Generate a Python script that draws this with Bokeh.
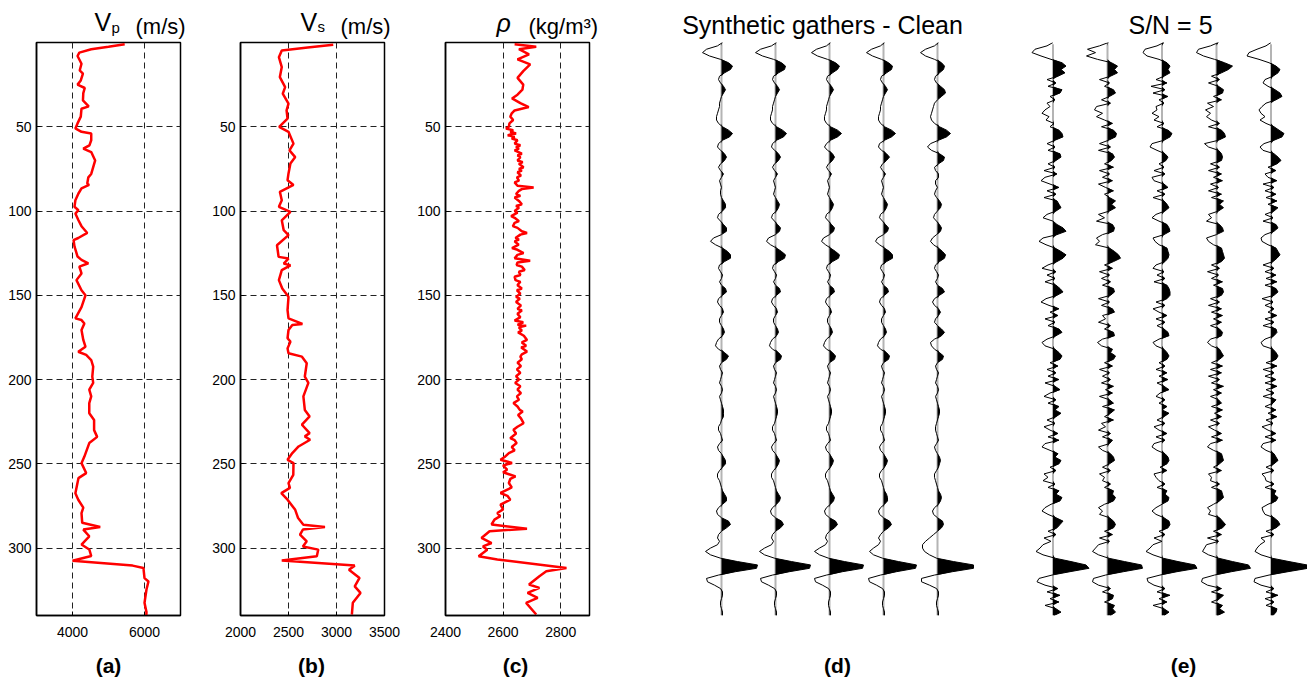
from bokeh.plotting import figure
from bokeh.layouts import row, column
from bokeh.models import Range1d, FixedTicker, Label
from bokeh.embed import file_html
from bokeh.resources import INLINE

FONT = "Liberation Sans"

# ---------------- data ----------------
depth_ticks = [50, 100, 150, 200, 250, 300]
vp_ticks = [4000, 6000]
vs_ticks = [2000, 2500, 3000, 3500]
rho_ticks = [2400, 2600, 2800]

vp_depth = [1, 2.5, 4, 6, 8, 12.6, 16.6, 18.5, 22.5, 25, 27, 30, 34.4, 37.9, 39.3, 44, 48, 51, 53, 54,
            58, 61, 63, 65, 70, 74, 78, 80, 83.7, 84.5, 86.5, 89.6, 93.6, 97.5, 99.5, 101.5, 105.5, 109,
            113, 116, 117.3, 121, 127, 129, 131, 133, 137, 141, 147, 150, 157, 163.7, 164.7, 166.7, 170.6,
            176.5, 180.5, 183.5, 185.4, 188.4, 192.3, 198.3, 202, 206, 210, 214, 220, 224, 230, 234, 237.7,
            245.7, 249.6, 255.5, 258.5, 267.4, 271.3, 276, 279.2, 285, 287.5, 289, 293, 297.9, 300.8, 304.7,
            307.5, 310.4, 311.8, 317.8, 319.8, 324.6, 332.5, 338, 340]
vp_mps = [5450, 5000, 4520, 4190, 4140, 4250, 4200, 4290, 4230, 4140, 4340, 4300, 4290, 4450, 4250, 4230,
          4140, 4080, 4250, 4520, 4520, 4470, 4300, 4520, 4630, 4575, 4520, 4440, 4410, 4460, 4250, 4165,
          4080, 4055, 4165, 4080, 4165, 4250, 4410, 4160, 4030, 4055, 4140, 4250, 4440, 4190, 4250, 4110,
          4250, 4360, 4250, 4080, 4250, 4330, 4250, 4300, 4360, 4160, 4380, 4520, 4575, 4550, 4575, 4466,
          4520, 4466, 4466, 4600, 4600, 4685, 4466, 4330, 4250, 4380, 4165, 4080, 4160, 4300, 4250, 4270,
          4770, 4300, 4466, 4250, 4466, 4520, 4000, 5670, 5970, 6000, 6110, 6055, 6000, 6055, 6050]

vs_depth = [1.4, 3, 4.7, 8.7, 14.6, 20.5, 26.5, 30.4, 36.3, 40.3, 45.2, 50.1, 53, 60, 64, 68, 71.8, 77.7,
            81.7, 84.5, 88.6, 93.6, 97.5, 100.5, 105.5, 111.4, 114.3, 120.3, 127.2, 128.2, 131.2, 132.2,
            135.1, 141, 146, 150.9, 158.8, 163.7, 167, 167.6, 170.6, 175.5, 177.5, 181.5, 184.4, 186.4,
            190.3, 198.2, 202, 210, 218, 221.9, 226.8, 231.8, 233.7, 235.7, 239.7, 243.6, 247.6, 249.5,
            256.5, 261.4, 264.3, 267.4, 271.3, 277.3, 282.2, 286.1, 287.5, 289, 292, 296, 299, 300.9, 304.8,
            307.4, 310.4, 312.8, 317.7, 322.7, 326.6, 332.5, 339.5]
vs_mps = [2966, 2700, 2430, 2400, 2430, 2410, 2465, 2440, 2500, 2480, 2490, 2403, 2500, 2552, 2510, 2570,
          2520, 2500, 2490, 2552, 2410, 2430, 2400, 2520, 2430, 2450, 2500, 2380, 2397, 2500, 2450, 2520,
          2430, 2400, 2435, 2500, 2490, 2500, 2645, 2540, 2500, 2490, 2520, 2490, 2500, 2640, 2690, 2670,
          2707, 2655, 2670, 2720, 2640, 2720, 2670, 2725, 2605, 2540, 2490, 2552, 2550, 2500, 2515, 2425,
          2490, 2570, 2600, 2655, 2880, 2650, 2620, 2690, 2650, 2810, 2795, 2430, 3190, 3130, 3240, 3190,
          3250, 3170, 3160]

rho_depth = [1, 2.5, 4, 7, 10, 13, 17, 21, 25, 28, 31, 33.2, 36, 38.3, 40.3,
             42, 44, 46, 48, 50, 51, 52, 53, 54, 55, 56, 57, 58, 60,
             61, 62, 63, 64, 66, 67, 68, 70, 71, 72, 74, 75, 76, 77, 79, 80, 82, 83, 85, 86,
             87, 88, 90, 91, 92, 94, 96, 97, 98, 100,
             101, 103, 104, 106, 107, 109, 110, 112, 113, 114, 116, 117, 118, 120,
             122, 123, 125, 126, 128, 129.5, 130.5, 132, 133, 135, 136, 138, 139, 141, 142, 144, 146, 147,
             149, 151, 152, 154, 156, 158, 159, 161, 163, 165, 166, 167.5, 168, 169, 171, 172, 174, 176.5,
             178, 180, 181, 183.4, 185, 186.4, 188, 190, 192, 194, 196, 198, 200, 202, 204, 206, 208, 210,
             212, 214, 216, 218, 219, 221, 223, 225.9, 228, 229.8, 232, 234.8, 236, 237.7, 240, 242, 243.6,
             246, 247.6, 249.5, 251, 253.5, 255, 257.5, 259, 261.4, 264, 267.3, 269, 271.3, 274.2, 277,
             279.2, 281, 283.1, 286, 288.5, 290, 294, 297, 299, 301, 304.8, 306.8, 311.8, 313.8, 316.7,
             321.6, 323.6, 326.6, 329.5, 332.5, 339.4]
rho_kgm3 = [2640, 2715, 2655, 2690, 2650, 2694, 2670, 2650, 2670, 2667, 2650, 2631, 2660, 2689, 2640,
            2630, 2625, 2635, 2622, 2620, 2610, 2635, 2625, 2645, 2616, 2640, 2630, 2650, 2640,
            2660, 2645, 2655, 2640, 2665, 2650, 2660, 2650, 2668, 2655, 2671, 2655, 2665, 2650, 2662, 2648,
            2655, 2640, 2650, 2706,
            2665, 2655, 2645, 2660, 2640, 2655, 2665, 2645, 2655, 2640,
            2650, 2628, 2640, 2655, 2640, 2634, 2650, 2665, 2683, 2660, 2643, 2655, 2640, 2654,
            2631, 2650, 2671, 2650, 2640, 2694, 2650, 2647, 2665, 2675, 2655, 2660, 2640, 2643, 2660, 2650,
            2665, 2648, 2660, 2645, 2658, 2645, 2662, 2650, 2665, 2650, 2660, 2640, 2670, 2650, 2680, 2655,
            2665, 2652, 2672, 2683, 2665, 2680, 2663, 2683, 2665, 2660, 2665, 2650, 2662, 2648, 2660, 2645,
            2655, 2642, 2660, 2650, 2662, 2648, 2655, 2636, 2650, 2658, 2668, 2652, 2662, 2671, 2650, 2636,
            2645, 2625, 2640, 2647, 2630, 2640, 2620, 2605, 2591, 2631, 2600, 2614, 2600, 2643, 2625, 2620,
            2630, 2591, 2615, 2625, 2591, 2600, 2580, 2590, 2570, 2560, 2683, 2553, 2525, 2560, 2530, 2545,
            2515, 2580, 2820, 2750, 2726, 2690, 2726, 2685, 2720, 2680, 2715]

# seismic traces: one amplitude every 2 time samples (t = 0, 2, 4, ... 340)
SAMPLE_STEP = 2
clean_1 = [1, -4, -15, -19, -12, -1, 7, 11, 9, 3,
           -2, -3, -1, 2, 4, 2, 0, -1, -2, -2,
           -3, -4, -5, -5, -3, 1, 7, 11, 8, 1,
           -3, -4, -1, 3, 5, 3, -1, -3, -1, 2,
           0, -2, -1, 0, -1, -1, 0, 2, 4, 4,
           1, -3, -4, -1, 2, 5, 5, 0, -8, -11,
           -6, 1, 6, 9, 9, 3, -2, -3, -1, 1,
           0, -2, 0, 4, 5, 1, -3, -4, -2, 1,
           2, 0, -2, -2, 0, 2, 3, 1, -3, -5,
           -6, -3, 3, 7, 5, 0, -2, -1, 1, 0,
           -1, -2, 0, 1, 0, -2, -1, 0, 1, 2,
           2, 2, 0, -1, -3, -3, -1, 0, 1, -2,
           -4, -3, 0, 2, 4, 4, 1, -2, -4, -4,
           -2, -1, 0, 1, 3, 5, 5, 1, -3, -5,
           -4, 0, 7, 9, 5, 0, -3, -4, -2, -4,
           -11, -16, -11, -1, 16, 36, 35, 14, -3, -15,
           -14, -7, -1, 1, 1, 0, -1, -1, 0, 1,
           1]
clean_2 = [1, -4, -15, -20, -13, -2, 6, 10, 9, 3,
           -2, -3, -1, 2, 4, 2, 0, -1, -2, -3,
           -3, -4, -5, -5, -3, 1, 7, 11, 8, 1,
           -3, -4, -1, 3, 5, 3, -1, -3, -1, 2,
           0, -2, -1, 0, -1, -2, 0, 2, 4, 3,
           1, -3, -4, -1, 2, 5, 4, 0, -7, -9,
           -5, 1, 6, 10, 9, 3, -2, -3, -1, 1,
           0, -2, 0, 4, 5, 1, -3, -4, -2, 1,
           2, 0, -2, -2, 0, 2, 3, 1, -3, -5,
           -6, -3, 3, 6, 5, 0, -2, -1, 1, 0,
           -1, -2, 0, 1, 0, -2, -1, 0, 1, 2,
           2, 1, 0, -1, -3, -3, -1, 0, 1, -2,
           -4, -3, 0, 2, 4, 3, 1, -2, -4, -4,
           -2, -1, 0, 1, 3, 5, 4, 1, -3, -5,
           -4, 0, 6, 8, 5, 0, -3, -4, -2, -4,
           -11, -16, -11, -1, 16, 35, 34, 14, -3, -15,
           -14, -7, -1, 1, 1, 0, -1, -1, 0, 1,
           1]
clean_3 = [1, -3, -13, -18, -12, -2, 6, 10, 8, 3,
           -2, -3, -1, 2, 4, 2, 0, -1, -2, -3,
           -3, -4, -5, -5, -3, 1, 8, 12, 8, 1,
           -3, -5, -2, 3, 5, 3, -1, -3, -1, 2,
           0, -2, -1, 0, -1, -2, 0, 2, 4, 3,
           1, -3, -4, -1, 2, 5, 4, 0, -6, -8,
           -4, 1, 6, 10, 9, 3, -2, -3, -1, 1,
           0, -2, 0, 4, 5, 1, -3, -4, -2, 1,
           2, 0, -2, -2, 0, 2, 3, 1, -3, -5,
           -6, -3, 3, 6, 5, 0, -2, -1, 1, 0,
           -1, -2, 0, 1, 0, -2, -1, 0, 1, 2,
           2, 1, 0, -1, -3, -3, -1, 0, 1, -2,
           -4, -3, 0, 2, 4, 3, 1, -2, -4, -4,
           -2, -1, 0, 1, 3, 5, 4, 1, -3, -5,
           -4, 0, 6, 8, 5, 0, -3, -4, -2, -4,
           -10, -15, -10, -1, 15, 34, 33, 13, -3, -15,
           -14, -7, -1, 1, 1, 0, -1, -1, 0, 1,
           1]
clean_4 = [1, -3, -12, -17, -11, -2, 5, 9, 8, 3,
           -2, -3, -1, 2, 4, 2, 0, -1, -2, -3,
           -3, -4, -5, -5, -3, 1, 8, 12, 8, 1,
           -4, -5, -2, 3, 6, 3, -1, -3, -1, 2,
           0, -2, -1, 0, -1, -2, 0, 2, 4, 3,
           1, -3, -4, -1, 2, 5, 4, 0, -6, -8,
           -4, 1, 6, 9, 9, 3, -2, -3, -1, 1,
           0, -2, 0, 4, 5, 1, -3, -4, -2, 1,
           2, 0, -2, -2, 0, 2, 3, 1, -3, -5,
           -6, -3, 3, 6, 5, 0, -2, -1, 1, 0,
           -1, -2, 0, 1, 0, -2, -1, 0, 1, 2,
           2, 1, 0, -1, -3, -3, -1, 0, 1, -2,
           -4, -3, 0, 2, 4, 3, 1, -2, -4, -4,
           -2, -1, 0, 1, 3, 4, 4, 1, -3, -5,
           -4, 0, 6, 8, 5, 0, -3, -5, -3, -5,
           -10, -14, -10, -1, 15, 33, 32, 13, -3, -15,
           -14, -7, -1, 1, 1, 0, -1, -1, 0, 1,
           1]
clean_5 = [1, -3, -12, -17, -12, -3, 4, 7, 6, 2,
           -2, -3, -1, 3, 7, 8, 4, 0, -3, -4,
           -5, -6, -7, -6, -3, 2, 9, 13, 9, 1,
           -7, -10, -6, 2, 7, 6, 1, -3, -2, 1,
           1, -2, -2, 0, -2, -3, -1, 2, 4, 3,
           0, -3, -4, -1, 2, 4, 3, -1, -5, -7,
           -4, 1, 5, 8, 7, 2, -2, -3, -1, 1,
           0, -2, 0, 5, 7, 2, -3, -5, -3, 1,
           3, 1, -2, -3, 0, 4, 7, 4, -3, -7,
           -6, -3, 2, 6, 5, 0, -2, -1, 1, 0,
           -1, -2, 0, 1, 0, -2, -1, 0, 1, 2,
           2, 1, 0, -1, -2, -2, -1, 0, 1, -1,
           -3, -2, 0, 2, 3, 2, 1, -1, -3, -3,
           -2, -1, 0, 1, 3, 4, 3, 1, -3, -5,
           -4, 0, 5, 6, 4, 0, -4, -8, -12, -15,
           -15, -13, -8, -1, 16, 36, 36, 15, -3, -16,
           -16, -8, -1, 1, 1, 0, -1, -1, 0, 1,
           1]

noisy_1 = [0, -6, -18, -21, -12, -2, 9, 13, 8, 12,
           5, -6, 3, -5, 9, 7, -3, 2, -6, -3,
           -8, -11, -4, -7, 1, -3, 6, 9, 10, 2,
           -6, 2, -5, 7, 8, 3, -5, 2, -9, 4,
           -8, -12, -3, 6, -6, 3, -9, 4, 6, 8,
           3, -6, -10, 0, 4, 10, 13, 4, -10, -14,
           -7, 2, 8, 13, 10, 4, -5, -11, 3, -6,
           2, -8, 3, 7, 10, 4, -7, -12, -4, 6,
           -3, 5, -8, 2, -5, 6, 9, 3, -6, -11,
           -8, 2, 6, 9, 7, -3, 5, -6, 3, -5,
           6, -8, 2, 7, -3, -9, 3, -5, 6, 2,
           8, 3, -6, 2, -9, -3, 5, -5, 6, -8,
           -11, -3, 5, 2, 8, 6, -3, 3, -9, -5,
           -10, 2, -5, 6, 3, 9, 7, -2, -8, -11,
           -5, 3, 10, 7, 4, -5, 3, -9, -2, -10,
           -13, -17, -10, 2, 18, 33, 36, 17, -1, -14,
           -16, -8, 5, -6, 7, -3, 6, -8, 3, 8,
           1]
noisy_2 = [1, -8, -20, -12, -21, -10, 4, 10, 7, 10,
           3, -8, 2, -3, 6, 8, 2, -6, 3, -11,
           -13, -5, -11, -3, 5, -6, 6, 9, 8, 1,
           -8, 3, -9, 5, 7, 4, -3, 6, -8, 2,
           -5, 5, -9, -2, 6, -3, 2, 8, 4, 8,
           2, -9, -3, -11, 5, 7, 6, -5, -11, -8,
           -12, 2, 7, 11, 13, 6, -3, 5, -8, 2,
           -6, 3, -5, 6, 7, 3, -9, 2, -6, 5,
           7, -5, -2, -9, 3, -3, 6, 7, -5, -10,
           -6, 5, 3, 8, 6, -3, 5, -8, 2, -5,
           3, -6, 6, -2, 5, -8, 2, 6, -5, 7,
           3, -3, 6, -6, -2, -9, 3, -5, 5, 2,
           -9, -5, 3, 6, 7, 2, -5, 3, -8, -3,
           -5, 3, -3, 6, 5, 8, 6, -3, -9, -5,
           -8, 2, 6, 8, 6, -3, 5, -8, 2, -9,
           -12, -15, -9, 1, 17, 34, 35, 16, -2, -14,
           -15, -9, 3, -5, 6, 5, -3, 7, 5, 8,
           3]
noisy_3 = [2, -5, -17, -19, -15, -3, 5, 8, 6, 8,
           2, -6, 5, -11, 3, -9, 6, -3, 2, -6,
           -5, -10, -3, -8, 2, -5, 6, 10, 8, 2,
           -10, -12, -5, 3, 6, 4, -3, 2, -8, 3,
           -10, -8, 2, 6, -5, 3, -9, 2, 5, 7,
           3, -6, -10, -3, 5, 7, 8, 2, -9, -7,
           -3, 5, 6, 7, 6, 3, -6, -9, 2, -5,
           3, -8, 5, 7, 8, 8, 5, -6, 3, -9,
           -3, 5, -6, 3, -5, 2, 6, 7, -3, -9,
           -6, 2, 5, 7, 5, -3, 3, -6, 5, -3,
           6, -5, 2, 7, -2, -6, 3, -3, 5, 0,
           7, 2, -5, 3, -8, -3, 5, -6, 3, -8,
           -10, -5, 3, 6, 7, 5, -2, 5, -8, -6,
           -3, 3, -5, 5, 3, 7, 6, 0, -6, -10,
           -6, 2, 7, 8, 6, -3, 3, -8, 0, -9,
           -12, -16, -9, 1, 16, 33, 35, 15, -2, -15,
           -14, -8, 3, -5, 8, -3, 5, -9, 2, 7,
           2]
noisy_4 = [2, -6, -18, -20, -13, -2, 8, 16, 12, 5,
           -5, 3, -8, 2, 7, 6, -3, 5, -9, -3,
           -11, -6, -10, -5, 3, -8, 5, 8, 9, 2,
           -12, -8, 2, 5, 6, 5, -6, 3, -8, 5,
           -3, 6, -6, 2, -8, 5, -5, 7, 3, 7,
           2, -8, -5, -10, 3, 6, 7, 0, -10, -8,
           -3, 5, 6, 7, 8, 5, -5, 3, -9, 2,
           -5, 6, -3, 6, 7, 5, -6, 3, -8, 5,
           -5, 6, -3, 5, -6, 3, 6, 5, -6, -9,
           -5, 3, 5, 7, 3, -5, 6, -6, 5, -8,
           3, -5, 7, -3, 5, -6, 2, 5, -5, 6,
           -2, 5, -6, 3, -8, -2, 5, -5, 6, -6,
           -9, -3, 5, 6, 7, 3, -3, 5, -8, -5,
           -6, 3, -5, 5, 6, 7, 3, -3, -9, -6,
           -8, 3, 6, 9, 6, -3, 5, -9, 2, -10,
           -12, -14, -8, 2, 16, 32, 34, 15, -2, -14,
           -15, -9, 5, -5, 7, 3, -5, 6, 3, 8,
           1]
noisy_5 = [0, -5, -14, -22, -24, -12, -2, 5, 9, 7,
           2, -6, -8, -3, 4, 9, 11, 5, -5, -9,
           -12, -10, -6, -11, -5, 3, 8, 13, 11, 3,
           -7, -11, -8, 3, 7, 10, 6, -3, 5, -6,
           -3, 6, -8, 3, -6, 5, -5, 6, -3, 7,
           3, -6, 2, -8, 5, 7, 3, -6, -10, -9,
           -3, 5, 7, 9, 6, 2, -8, 3, -6, 5,
           -5, 6, -6, 5, 7, 3, -9, 2, -6, 3,
           -3, 6, -6, 3, -8, 5, 6, 3, -6, -10,
           -8, 2, 5, 7, 5, -5, 6, -8, 3, -6,
           5, -6, 6, -5, 3, -8, 5, 2, -6, 5,
           -3, 6, -5, 2, -9, -3, 5, -6, 5, -8,
           -10, -5, 3, 5, 7, 3, -5, 3, -9, -6,
           -5, 3, -6, 5, 3, 7, 5, -3, -9, -8,
           -6, 3, 7, 9, 5, -5, 3, -10, -6, -11,
           -14, -16, -10, 1, 18, 36, 37, 17, -2, -16,
           -17, -10, 3, -5, 7, -6, 3, -5, 6, 5,
           2]

clean_traces = [clean_1, clean_2, clean_3, clean_4, clean_5]
noisy_traces = [noisy_1, noisy_2, noisy_3, noisy_4, noisy_5]

# ---------------- layout (page pixels) ----------------
W = 1307
TOP_H = 40           # strip holding the panel titles
FRAME_TOP = 42       # page y of the frame tops
FRAME_H = 573
ROW_BOTTOM = 32      # room for x tick labels
BOT_H = 680 - (FRAME_TOP + FRAME_H + ROW_BOTTOM)
TMAX = 340


def text_strip(height, y0, items):
    p = figure(width=W, height=height, x_range=Range1d(0, W), y_range=Range1d(y0 + height, y0),
               output_backend="svg", toolbar_location=None, x_axis_location=None, y_axis_location=None,
               min_border=0, min_border_left=0, min_border_right=0, min_border_top=0, min_border_bottom=0)
    p.grid.visible = False
    p.outline_line_color = None
    p.background_fill_color = "white"
    p.border_fill_color = "white"
    for text, px, py, size, style, align in items:
        p.add_layout(Label(x=px, y=py, text=text, text_font=FONT, text_font_size=size,
                           text_font_style=style, text_align=align, text_baseline="middle",
                           text_color="black"))
    return p


def log_panel(depth, vals, xr, xticks, xgrid, left, right):
    p = figure(frame_width=144, frame_height=FRAME_H, x_range=Range1d(*xr), y_range=Range1d(TMAX, 0),
               output_backend="svg", toolbar_location=None,
               min_border_left=left, min_border_right=right,
               min_border_top=FRAME_TOP - TOP_H, min_border_bottom=ROW_BOTTOM)
    p.background_fill_color = "white"
    p.border_fill_color = "white"
    p.xaxis.ticker = FixedTicker(ticks=xticks)
    p.yaxis.ticker = FixedTicker(ticks=depth_ticks)
    for ax in p.axis:
        ax.major_tick_in = 4
        ax.major_tick_out = 0
        ax.minor_tick_in = 0
        ax.minor_tick_out = 0
        ax.major_tick_line_color = "black"
        ax.axis_line_color = "black"
        ax.axis_line_width = 1.5
        ax.major_label_text_font = FONT
        ax.major_label_text_font_size = "14px"
        ax.major_label_text_color = "black"
    p.xaxis.major_label_standoff = 11
    p.yaxis.major_label_standoff = 5
    p.xgrid.ticker = FixedTicker(ticks=xgrid)
    p.ygrid.ticker = FixedTicker(ticks=depth_ticks)
    p.grid.grid_line_color = "#222222"
    p.grid.grid_line_alpha = 1
    p.grid.grid_line_width = 1
    p.grid.grid_line_dash = "6 4"
    p.outline_line_color = "black"
    p.outline_line_alpha = 1
    p.outline_line_width = 1.5
    p.line(vals, depth, line_color="#ff0000", line_width=2.5)
    return p


def gather_panel(traces, fw, spacing, left, right):
    p = figure(frame_width=fw, frame_height=FRAME_H, x_range=Range1d(0, fw / spacing),
               y_range=Range1d(TMAX, 0), output_backend="svg", toolbar_location=None,
               x_axis_location=None, y_axis_location=None,
               min_border_left=left, min_border_right=right,
               min_border_top=FRAME_TOP - TOP_H, min_border_bottom=ROW_BOTTOM)
    p.grid.visible = False
    p.outline_line_color = None
    p.background_fill_color = "white"
    p.border_fill_color = "white"
    for j, tr in enumerate(traces, start=1):
        t = [SAMPLE_STEP * i for i in range(len(tr))]
        xs = [j + a / spacing for a in tr]
        xpos = [j + max(a, 0) / spacing for a in tr]
        p.line([j, j], [1, t[-1]], line_color="#b4b4b4", line_width=2)
        p.harea(x1=[j] * len(t), x2=xpos, y=t, fill_color="black", fill_alpha=1)
        p.line(xs, t, line_color="black", line_width=1)
    return p


# (text, x, vertical middle, size, style, align)
top = text_strip(TOP_H, 0, [
    ("V", 94, 21, "25px", "normal", "left"),
    ("p", 111, 27, "15px", "normal", "left"),
    ("(m/s)", 135, 26, "22px", "normal", "left"),
    ("V", 300, 21, "25px", "normal", "left"),
    ("s", 317, 26, "15px", "normal", "left"),
    ("(m/s)", 340, 26, "22px", "normal", "left"),
    ("ρ", 496, 22, "25px", "italic", "left"),
    ("(kg/m³)", 528, 26, "22px", "normal", "left"),
    ("Synthetic gathers - Clean", 822, 24, "25px", "normal", "center"),
    ("S/N = 5", 1170, 24, "25px", "normal", "center"),
])
bottom = text_strip(BOT_H, 680 - BOT_H, [
    ("(a)", 108, 665, "21px", "bold", "center"),
    ("(b)", 311, 665, "21px", "bold", "center"),
    ("(c)", 515, 665, "21px", "bold", "center"),
    ("(d)", 837, 665, "21px", "bold", "center"),
    ("(e)", 1183, 665, "21px", "bold", "center"),
])

pa = log_panel(vp_depth, vp_mps, (3000, 7000), vp_ticks, vp_ticks, 36, 29)
pb = log_panel(vs_depth, vs_mps, (2000, 3500), vs_ticks, [2500, 3000], 30, 30)
pc = log_panel(rho_depth, rho_kgm3, (2400, 2900), rho_ticks, [2600, 2800], 30, 30)
pd = gather_panel(clean_traces, 324, 54.0, 48, 3)
pe = gather_panel(noisy_traces, 311, 54.5, 4, 0)

layout = column(top, row(pa, pb, pc, pd, pe), bottom)
open("out.html", "w").write(file_html(layout, INLINE))
